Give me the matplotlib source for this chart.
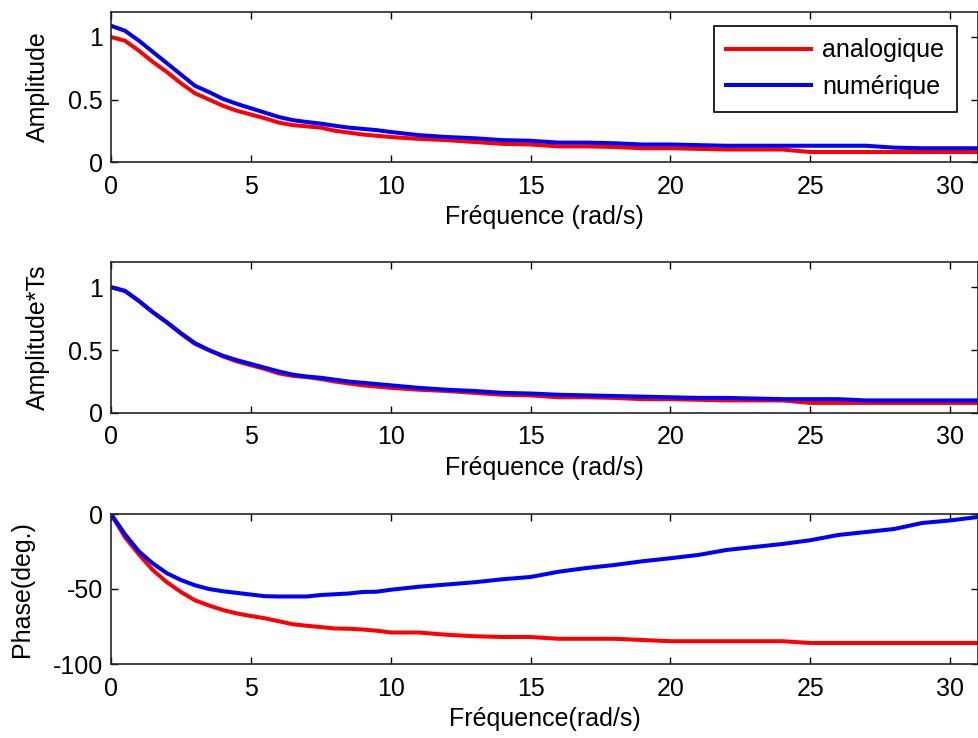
import matplotlib
matplotlib.use("Agg")
import matplotlib.pyplot as plt

plt.rcParams['font.family'] = ['Liberation Sans', 'DejaVu Sans']

freq = [0, 0.5, 1, 1.5, 2, 2.5, 3, 3.5, 4, 4.5, 5, 5.5, 6, 6.5, 7, 7.5, 8, 8.5, 9, 9.5,
        10, 11, 12, 13, 14, 15, 16, 17, 18, 19, 20, 21, 22, 23, 24, 25, 26, 27, 28, 29, 30, 31]

amp_analog = [1.0, 0.97, 0.89, 0.80, 0.72, 0.63, 0.55, 0.50, 0.45, 0.41, 0.38, 0.35, 0.315, 0.295,
              0.285, 0.275, 0.25, 0.235, 0.22, 0.21, 0.20, 0.185, 0.175, 0.16, 0.145, 0.14, 0.125,
              0.125, 0.12, 0.11, 0.11, 0.105, 0.10, 0.10, 0.10, 0.08, 0.08, 0.08, 0.08, 0.08, 0.08, 0.08]
amp_num = [1.09, 1.05, 0.97, 0.88, 0.79, 0.70, 0.61, 0.56, 0.505, 0.465, 0.43, 0.395, 0.36, 0.335,
           0.32, 0.307, 0.29, 0.275, 0.265, 0.255, 0.24, 0.215, 0.20, 0.19, 0.175, 0.17, 0.155,
           0.155, 0.15, 0.14, 0.14, 0.135, 0.13, 0.13, 0.13, 0.13, 0.13, 0.13, 0.115, 0.11, 0.11, 0.11]

ampTs_analog = [1.0, 0.97, 0.89, 0.80, 0.72, 0.63, 0.55, 0.50, 0.45, 0.41, 0.38, 0.35, 0.315, 0.295,
                0.285, 0.27, 0.25, 0.235, 0.22, 0.21, 0.20, 0.185, 0.175, 0.16, 0.145, 0.14, 0.125,
                0.125, 0.12, 0.11, 0.11, 0.105, 0.10, 0.10, 0.10, 0.08, 0.08, 0.08, 0.08, 0.08, 0.08, 0.08]
ampTs_num = [1.0, 0.97, 0.89, 0.80, 0.72, 0.635, 0.555, 0.50, 0.455, 0.42, 0.39, 0.36, 0.33, 0.305,
             0.29, 0.28, 0.265, 0.25, 0.24, 0.23, 0.22, 0.20, 0.185, 0.175, 0.16, 0.155, 0.145,
             0.14, 0.135, 0.13, 0.125, 0.12, 0.12, 0.115, 0.11, 0.11, 0.11, 0.10, 0.10, 0.10, 0.10, 0.10]

phase_analog = [0, -15.5, -27, -37.5, -45.5, -52, -57.5, -61, -64, -66.3, -68, -69.5, -71.5, -73.5,
                -74.5, -75.4, -76.3, -76.5, -77, -77.8, -79, -79, -80.5, -81.5, -82, -82, -83.2,
                -83.2, -83.2, -84, -84.8, -84.8, -84.8, -84.8, -84.8, -86, -86, -86, -86, -86, -86, -86]
phase_num = [0, -13.5, -25, -33, -39.5, -44, -47.5, -50, -51.5, -52.6, -53.7, -54.8, -55, -55,
             -55, -54, -53.5, -53, -52, -51.8, -50.5, -48.5, -47, -45.5, -43.5, -42, -38.5,
             -36, -34, -31.5, -29.5, -27.3, -24, -22, -20, -17.5, -14, -12, -10, -6, -4.3, -2]

xticks = [0, 5, 10, 15, 20, 25, 30]
legend_labels = ['analogique', 'numérique']

FS = 18
LW = 2.9
RED = '#ff0000'
BLUE = '#0000ff'

fig = plt.figure(figsize=(9.79, 7.38), dpi=100)
W, H = 979.0, 738.0

def make_ax(top_px, bot_px):
    left = 111 / W
    right = 978 / W
    return fig.add_axes([left, 1 - bot_px / H, right - left, (bot_px - top_px) / H])

ax1 = make_ax(12, 162)
ax2 = make_ax(262, 413)
ax3 = make_ax(514, 664)

specs = [
    (ax1, amp_analog, amp_num, (0, 1.2), [0, 0.5, 1], ['0', '0.5', '1'], 'Amplitude', 'Fréquence (rad/s)'),
    (ax2, ampTs_analog, ampTs_num, (0, 1.2), [0, 0.5, 1], ['0', '0.5', '1'], 'Amplitude*Ts', 'Fréquence (rad/s)'),
    (ax3, phase_analog, phase_num, (-100, 0), [-100, -50, 0], ['-100', '-50', '0'], 'Phase(deg.)', 'Fréquence(rad/s)'),
]

for ax, a, n, ylim, yt, ytl, ylab, xlab in specs:
    la, = ax.plot(freq, a, color=RED, lw=LW, solid_joinstyle='round')
    ln, = ax.plot(freq, n, color=BLUE, lw=LW, solid_joinstyle='round')
    ax.set_xlim(0, 31)
    ax.set_ylim(*ylim)
    ax.set_xticks(xticks)
    ax.set_xticklabels([str(t) for t in xticks])
    ax.set_yticks(yt)
    ax.set_yticklabels(ytl)
    ax.tick_params(direction='in', top=True, right=True, length=5, width=1,
                   labelsize=FS, colors='black')
    ax.tick_params(axis='x', pad=9)
    ax.tick_params(axis='y', pad=6)
    for s in ax.spines.values():
        s.set_color('#262626')
        s.set_linewidth(1.2)
    ax.set_xlabel(xlab, fontsize=FS, labelpad=5)
    ax.set_ylabel(ylab, fontsize=FS, labelpad=13)
    if ax is ax1:
        leg = ax.legend([la, ln], legend_labels, loc='upper right',
                        bbox_to_anchor=((957 - 111) / 867, (162 - 26) / 150),
                        borderaxespad=0, fontsize=FS, fancybox=False, framealpha=1,
                        edgecolor='black', handlelength=3.4, handletextpad=0.45,
                        borderpad=0.5, labelspacing=0.5)
        leg.get_frame().set_linewidth(1.2)

fig.savefig('out.png', dpi=100)
